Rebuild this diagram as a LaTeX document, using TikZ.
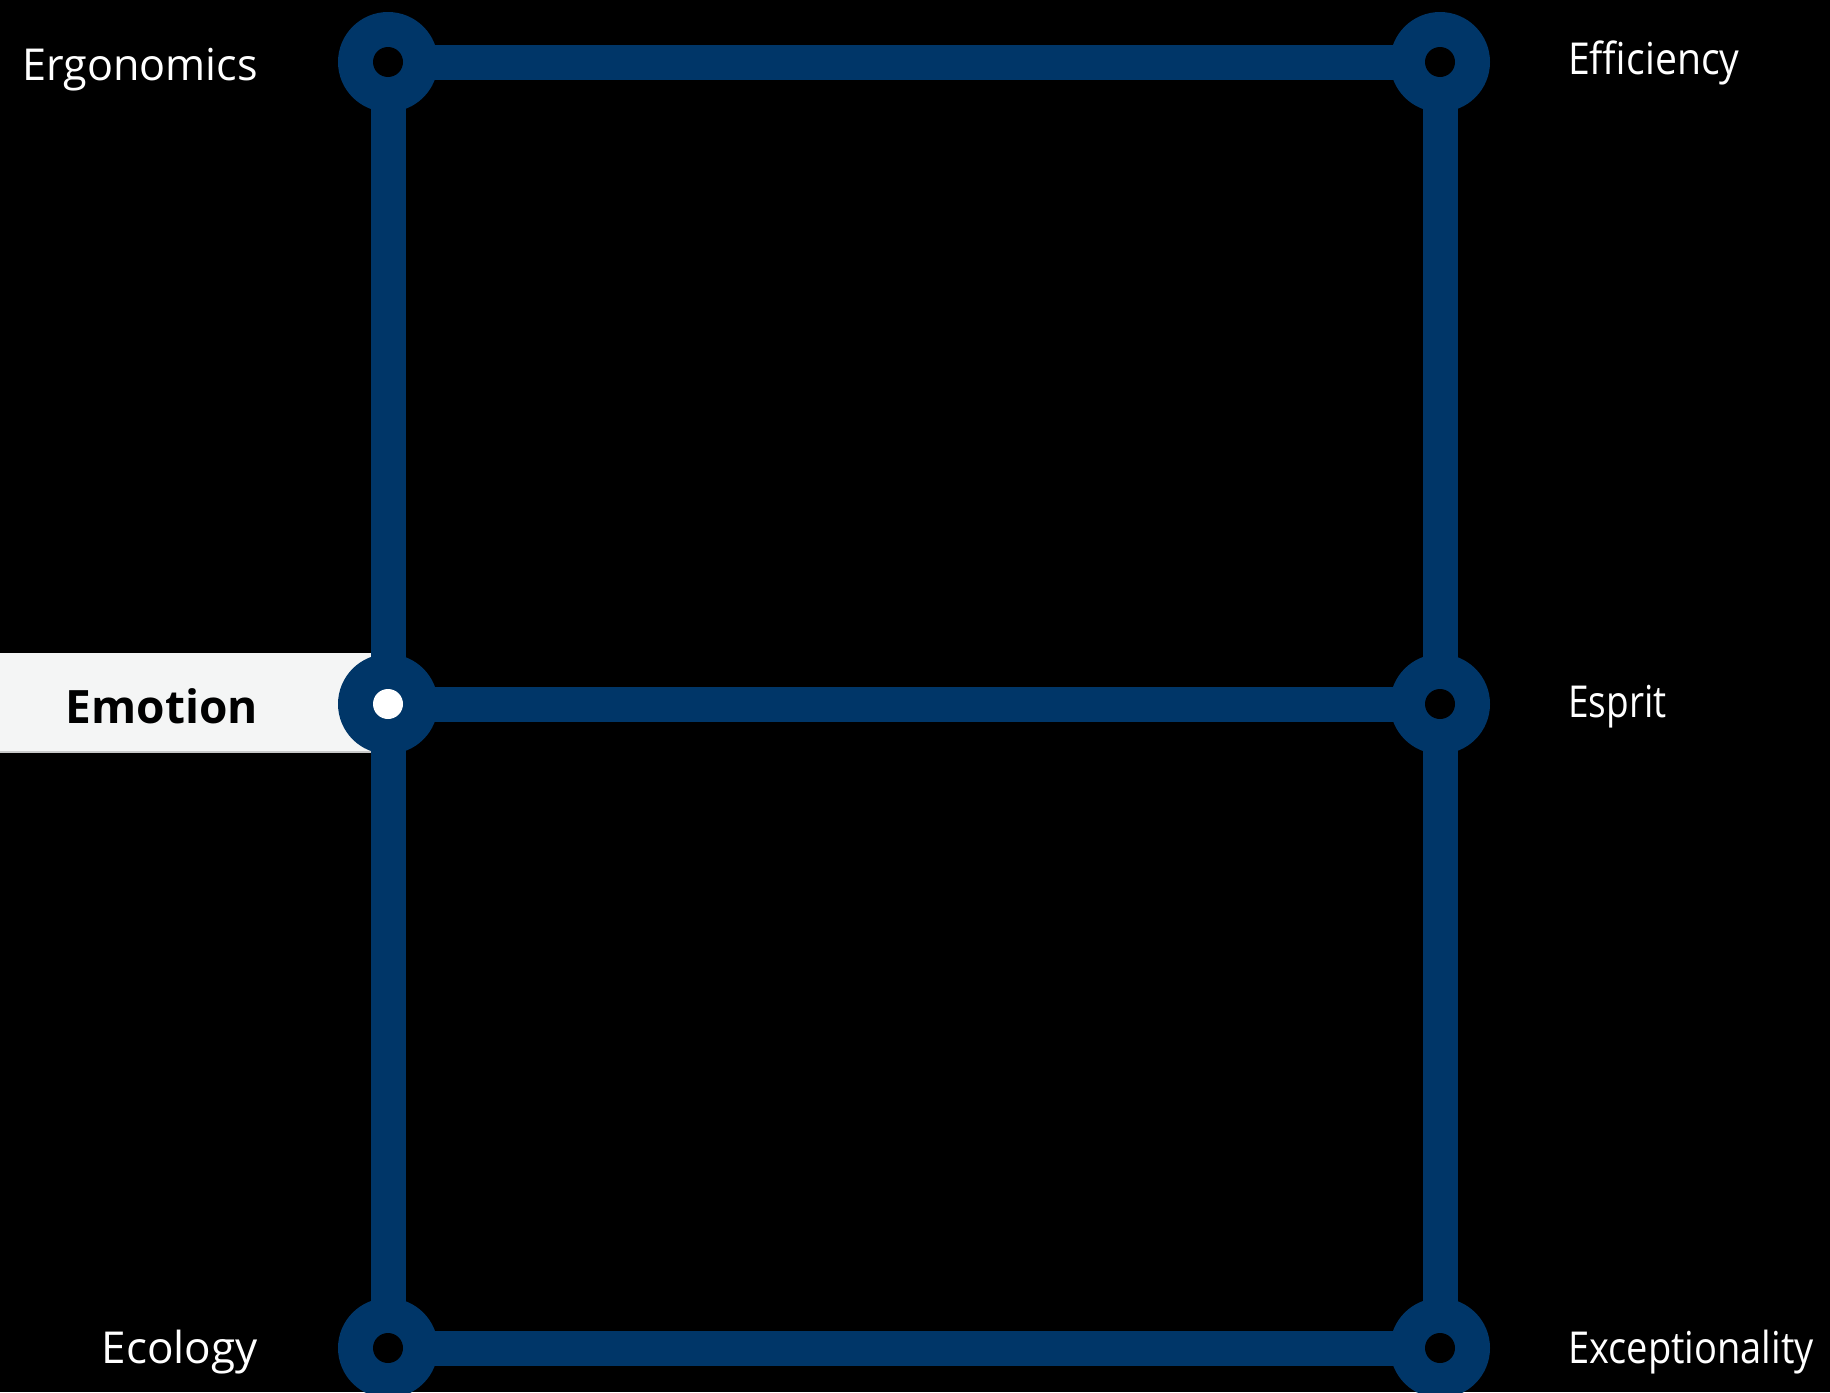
\documentclass[tikz,border=0pt]{standalone}
\usepackage{fontspec}
\setmainfont{Open Sans}
\definecolor{hub}{RGB}{0,54,104}
\definecolor{emobox}{RGB}{244,245,245}
\definecolor{emoline}{RGB}{200,200,200}
\begin{document}
\begin{tikzpicture}[x=1pt,y=-1pt,
  station/.style={circle, fill=hub, minimum size=100pt, inner sep=0pt},
  hole/.style={circle, fill=black, minimum size=30pt, inner sep=0pt},
  track/.style={draw=hub, line width=35pt},
  lbl/.style={text=white, font=\fontsize{44}{50}\selectfont, inner sep=0pt},
  boldlbl/.style={text=black, font=\fontsize{46}{50}\selectfont\bfseries, inner sep=0pt}]
\fill[black] (0,0) rectangle (1830,1392);
\useasboundingbox (0,0) rectangle (1830,1392);
% highlight box
\fill[emobox] (0,653) rectangle (372,752);
\draw[emoline, line width=1.5pt] (0,752) -- (372,752);
% coordinates
\coordinate (tl) at (388,62);
\coordinate (tr) at (1440,62);
\coordinate (ml) at (388,704);
\coordinate (mr) at (1440,704);
\coordinate (bl) at (388,1348);
\coordinate (br) at (1440,1348);
% tracks
\draw[track] (tl) -- (tr);
\draw[track] (ml) -- (mr);
\draw[track] (bl) -- (br);
\draw[track] (tl) -- (ml) -- (bl);
\draw[track] (tr) -- (mr) -- (br);
% stations
\node[station] (stl) at (tl) {};
\node[station] (str) at (tr) {};
\node[station] (sml) at (ml) {};
\node[station] (smr) at (mr) {};
\node[station] (sbl) at (bl) {};
\node[station] (sbr) at (br) {};
\node[hole] (htl) at (tl) {};
\node[hole] (htr) at (tr) {};
\node[hole, fill=white] (hml) at (ml) {};
\node[hole] (hmr) at (mr) {};
\node[hole] (hbl) at (bl) {};
\node[hole] (hbr) at (br) {};
% labels
\node[lbl, anchor=base east] (ergo) at (258,80) {\scalebox{0.98}[1]{Ergonomics}};
\node[lbl, anchor=base west] (effi) at (1568,74) {\scalebox{0.89}[1]{Efficiency}};
\node[boldlbl, anchor=base east] (emo) at (258,723) {Emotion};
\node[lbl, anchor=base west] (esp) at (1568,717) {\scalebox{0.84}[1]{Esprit}};
\node[lbl, anchor=base east] (eco) at (258,1363) {Ecology};
\node[lbl, anchor=base west] (exc) at (1568,1363) {\scalebox{0.865}[1]{Exceptionality}};
\end{tikzpicture}
\end{document}
